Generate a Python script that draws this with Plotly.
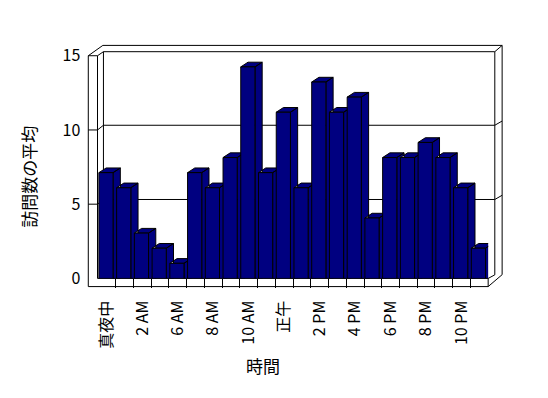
import plotly.graph_objects as go

# ---------------- data ----------------
hours = ["真夜中", "1 AM", "2 AM", "3 AM", "6 AM", "7 AM", "8 AM", "9 AM", "10 AM", "11 AM",
         "正午", "1 PM", "2 PM", "3 PM", "4 PM", "5 PM", "6 PM", "7 PM", "8 PM", "9 PM",
         "10 PM", "11 PM"]
visits = [7, 6, 3, 2, 1, 7, 6, 8, 14, 7, 11, 6, 13, 11, 12, 4, 8, 8, 9, 8, 6, 2]
y_ticks = [0, 5, 10, 15]
x_title = "時間"
y_title = "訪問数の平均"

# ---------------- geometry (window pixels) ----------------
OFF = 8                            # page body margin
W, H = 548 - OFF, 398 - OFF
NAVY = "#000080"
FONT = "Noto Sans CJK JP, DejaVu Sans, sans-serif"

X_LEFT, X_RIGHT = 93.8, 487.6      # category band span on the floor front
Y_FLOOR = 282.3                    # value 0 for bar fronts
PX_PER_UNIT = 16.1                 # bar scale
YMAX = 15
n = len(hours)
band = (X_RIGHT - X_LEFT) / n
DX = 7.3 / band                    # depth offset in x units
DY = 5.0 / PX_PER_UNIT             # depth offset in y units
BAR_OFF, BAR_W = -0.45, 0.8

def px(x):
    return (x - OFF) / W

def py(y):
    return 1 - (y - OFF) / H

xdom = [px(X_LEFT), px(X_RIGHT)]
ydom = [py(Y_FLOOR), py(Y_FLOOR - PX_PER_UNIT * YMAX)]
FRONT_TOP = 45.0                   # front axis: value 15
ydom_front = [py(Y_FLOOR), py(FRONT_TOP)]

# ---------------- 3D side/top faces ----------------
sx, sy = [], []
for i, v in enumerate(visits):
    xl = i + BAR_OFF
    xr = xl + BAR_W
    sx += [xr, xr + DX, xr + DX, xr, xr, None]
    sy += [0, 0, v + DY, v, 0, None]
    sx += [xl, xl + DX, xr + DX, xr, xl, None]
    sy += [v, v + DY, v + DY, v, v, None]

fig = go.Figure()
fig.add_trace(go.Scatter(x=sx, y=sy, xaxis="x", yaxis="y", mode="lines",
                         fill="toself", fillcolor=NAVY,
                         line=dict(color="black", width=1),
                         hoverinfo="skip", showlegend=False))
fig.add_trace(go.Bar(x=hours, y=visits, xaxis="x2", yaxis="y2",
                     offset=BAR_OFF, width=BAR_W,
                     marker=dict(color=NAVY, line=dict(color="black", width=1)),
                     showlegend=False))
fig.add_trace(go.Scatter(x=[None], y=[None], xaxis="x", yaxis="y3",
                         showlegend=False, hoverinfo="skip"))

# ---------------- frame (walls, floor, gridlines) ----------------
def path(points):
    return "M " + " L ".join(f"{px(x):.5f},{py(y):.5f}" for x, y in points)

shapes = []
def add(points):
    shapes.append(dict(type="path", xref="paper", yref="paper", path=path(points),
                       line=dict(color="black", width=1), layer="below"))

WALL_IN = 93.3
BACK_L, BACK_R, BACK_TOP = 99.3, 494.3, 40.7
OUT_L, OUT_R, OUT_TOP = 98.7, 501.7, 34.0
FLOOR_BOT = 291.0
add([(84, FRONT_TOP), (84, FLOOR_BOT), (X_RIGHT, FLOOR_BOT), (X_RIGHT, Y_FLOOR)])
add([(84, FRONT_TOP), (WALL_IN, FRONT_TOP), (WALL_IN, Y_FLOOR), (X_RIGHT, Y_FLOOR)])
add([(84, FRONT_TOP), (OUT_L, OUT_TOP), (OUT_R, OUT_TOP), (OUT_R, 278.3), (X_RIGHT, FLOOR_BOT)])
add([(WALL_IN, FRONT_TOP), (BACK_L, BACK_TOP), (BACK_R, BACK_TOP), (OUT_R, OUT_TOP)])
add([(BACK_L, BACK_TOP), (BACK_L, 277.3)])
add([(BACK_R, BACK_TOP), (BACK_R, 278.5), (X_RIGHT, Y_FLOOR)])
front_scale = (Y_FLOOR - FRONT_TOP) / YMAX
for v in y_ticks[1:-1]:
    yf = Y_FLOOR - v * front_scale
    add([(84, yf), (WALL_IN, yf), (BACK_L, yf - 5), (BACK_R, yf - 5), (OUT_R, yf - 9.5)])

fig.update_layout(
    width=W, height=H,
    margin=dict(l=0, r=0, t=0, b=0),
    paper_bgcolor="white", plot_bgcolor="rgba(0,0,0,0)",
    font=dict(family=FONT, color="black", size=16),
    bargap=0.2,
    shapes=shapes,
    xaxis=dict(domain=xdom, range=[-0.5, n - 0.5], anchor="y",
               showgrid=False, zeroline=False, showline=False,
               tickmode="array", tickvals=[k + 0.5 for k in range(n - 1)],
               ticks="outside", ticklen=9, tickcolor="black", tickwidth=1,
               showticklabels=False),
    yaxis=dict(domain=ydom, range=[0, YMAX], anchor="x",
               showgrid=False, zeroline=False, showline=False,
               showticklabels=False, ticks=""),
    xaxis2=dict(overlaying="x", anchor="y2", type="category",
                categoryorder="array", categoryarray=hours,
                range=[-0.5, n - 0.5], side="bottom",
                tickmode="array", tickvals=hours[::2], ticktext=hours[::2],
                tickangle=-90, ticks="", showline=False, showgrid=False,
                zeroline=False, ticklabelstandoff=18,
                tickfont=dict(size=16, family=FONT)),
    yaxis2=dict(overlaying="y", anchor="x2", range=[0, YMAX],
                showgrid=False, zeroline=False, showline=False,
                showticklabels=False, ticks=""),
    yaxis3=dict(domain=ydom_front, range=[0, YMAX], anchor="free",
                position=px(84), side="left",
                tickmode="array", tickvals=y_ticks,
                showgrid=False, zeroline=False, showline=False, ticks="",
                ticklabelstandoff=8, tickfont=dict(size=16, family=FONT)),
    annotations=[
        dict(text=x_title, x=px(260), y=py(375), xref="paper", yref="paper",
             showarrow=False, xanchor="center", yanchor="middle",
             font=dict(size=17, family=FONT)),
        dict(text=y_title, x=px(23.3), y=py(173.7), xref="paper", yref="paper",
             showarrow=False, xanchor="center", yanchor="middle", textangle=-90,
             font=dict(size=17, family=FONT)),
    ],
)

fig.write_html("out.html")
